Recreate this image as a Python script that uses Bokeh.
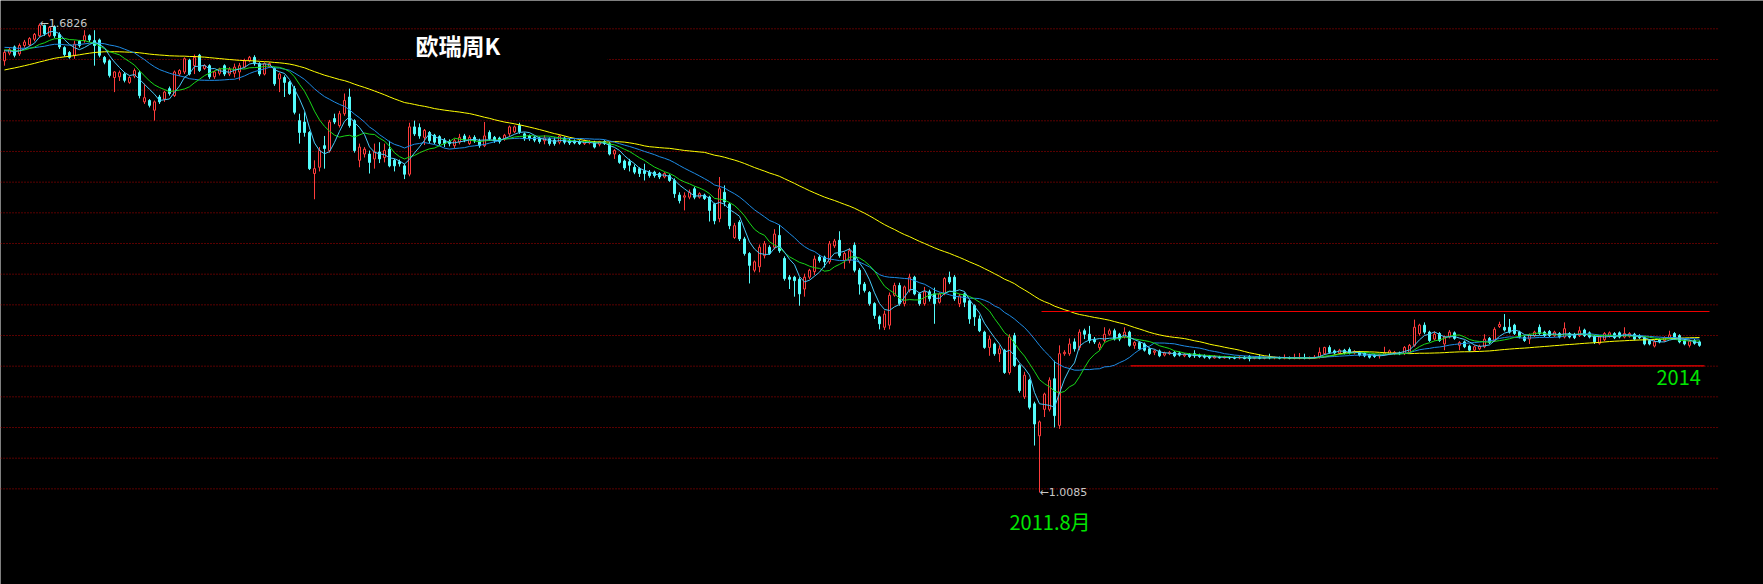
from bokeh.plotting import figure
from bokeh.models import Label, Grid, Range1d
from bokeh.embed import file_html
from bokeh.resources import INLINE

# ---------------- data (EUR/CHF weekly) ----------------
# closes used only to warm up the moving averages (before the visible window)
pre_closes = [1.552, 1.556, 1.555, 1.560, 1.558, 1.564, 1.562, 1.566, 1.564, 1.563,
              1.578, 1.582, 1.585, 1.589, 1.587, 1.592, 1.594, 1.596, 1.599, 1.598,
              1.608, 1.612, 1.615, 1.619, 1.622, 1.626, 1.621, 1.628, 1.624, 1.611,
              1.606, 1.614, 1.620, 1.626, 1.631, 1.635, 1.639, 1.637, 1.642, 1.647,
              1.650, 1.654, 1.657, 1.652, 1.658, 1.655, 1.657, 1.650, 1.645, 1.641,
              1.648, 1.652, 1.647, 1.644, 1.640, 1.646, 1.642, 1.645, 1.643]

opens = [1.629, 1.640, 1.649, 1.639, 1.651, 1.652, 1.660, 1.665, 1.680, 1.665,
         1.678, 1.667, 1.648, 1.641, 1.637, 1.657, 1.658, 1.665, 1.658, 1.659,
         1.634, 1.629, 1.605, 1.606, 1.610, 1.598, 1.607, 1.612, 1.570, 1.572,
         1.558, 1.577, 1.574, 1.589, 1.579, 1.610, 1.613, 1.630, 1.622, 1.637,
         1.618, 1.622, 1.606, 1.611, 1.622, 1.610, 1.611, 1.613, 1.620, 1.629,
         1.634, 1.625, 1.610, 1.621, 1.618, 1.603, 1.605, 1.598, 1.589, 1.543,
         1.541, 1.526, 1.467, 1.476, 1.507, 1.500, 1.546, 1.536, 1.553, 1.577,
         1.543, 1.486, 1.495, 1.495, 1.488, 1.498, 1.490, 1.502, 1.486, 1.484,
         1.478, 1.466, 1.534, 1.533, 1.519, 1.526, 1.522, 1.520, 1.515, 1.513,
         1.507, 1.512, 1.521, 1.510, 1.519, 1.514, 1.507, 1.526, 1.519, 1.518,
         1.517, 1.524, 1.527, 1.536, 1.524, 1.521, 1.519, 1.518, 1.514, 1.517,
         1.515, 1.512, 1.518, 1.515, 1.514, 1.513, 1.510, 1.511, 1.512, 1.509,
         1.513, 1.510, 1.495, 1.493, 1.485, 1.484, 1.476, 1.474, 1.471, 1.469,
         1.469, 1.467, 1.462, 1.464, 1.457, 1.436, 1.433, 1.433, 1.445, 1.433,
         1.436, 1.433, 1.423, 1.402, 1.440, 1.423, 1.375, 1.397, 1.373, 1.352,
         1.328, 1.333, 1.349, 1.361, 1.361, 1.378, 1.345, 1.318, 1.318, 1.315,
         1.301, 1.318, 1.326, 1.347, 1.347, 1.340, 1.363, 1.371, 1.342, 1.342,
         1.364, 1.328, 1.308, 1.296, 1.280, 1.261, 1.246, 1.249, 1.292, 1.306,
         1.280, 1.299, 1.318, 1.294, 1.280, 1.297, 1.294, 1.282, 1.294, 1.318,
         1.318, 1.280, 1.294, 1.284, 1.277, 1.258, 1.239, 1.217, 1.222, 1.208,
         1.213, 1.181, 1.234, 1.191, 1.146, 1.170, 1.136, 1.090, 1.128, 1.128,
         1.172, 1.105, 1.208, 1.208, 1.225, 1.217, 1.241, 1.236, 1.229, 1.217,
         1.227, 1.236, 1.241, 1.236, 1.232, 1.239, 1.220, 1.224, 1.222, 1.215,
         1.210, 1.212, 1.206, 1.208, 1.210, 1.209, 1.205, 1.207, 1.208, 1.206,
         1.205, 1.204, 1.202, 1.203, 1.202, 1.203, 1.202, 1.202, 1.203, 1.204,
         1.2015, 1.2025, 1.2015, 1.203, 1.202, 1.2025, 1.2015, 1.2025, 1.2015, 1.202,
         1.2025, 1.2015, 1.2025, 1.203, 1.208, 1.217, 1.212, 1.209, 1.213, 1.214,
         1.209, 1.210, 1.209, 1.206, 1.206, 1.205, 1.207, 1.208, 1.208, 1.209,
         1.208, 1.210, 1.220, 1.237, 1.249, 1.239, 1.229, 1.237, 1.222, 1.232,
         1.238, 1.220, 1.225, 1.219, 1.213, 1.215, 1.218, 1.230, 1.227, 1.247,
         1.246, 1.246, 1.249, 1.239, 1.232, 1.229, 1.234, 1.246, 1.239, 1.240,
         1.234, 1.237, 1.232, 1.237, 1.236, 1.234, 1.242, 1.238, 1.233, 1.223,
         1.228, 1.233, 1.237, 1.238, 1.232, 1.233, 1.236, 1.234, 1.231, 1.227,
         1.219, 1.228, 1.227, 1.231, 1.237, 1.234, 1.227, 1.220, 1.227, 1.225]

highs = [1.645, 1.648, 1.651, 1.654, 1.659, 1.663, 1.669, 1.6826, 1.681, 1.679,
         1.680, 1.670, 1.650, 1.643, 1.658, 1.659, 1.673, 1.667, 1.673, 1.661,
         1.636, 1.631, 1.614, 1.615, 1.613, 1.607, 1.618, 1.615, 1.596, 1.574,
         1.572, 1.580, 1.586, 1.592, 1.615, 1.617, 1.634, 1.632, 1.638, 1.639,
         1.624, 1.624, 1.615, 1.619, 1.624, 1.620, 1.625, 1.626, 1.632, 1.636,
         1.637, 1.627, 1.627, 1.627, 1.620, 1.612, 1.608, 1.600, 1.593, 1.553,
         1.555, 1.528, 1.486, 1.505, 1.521, 1.544, 1.553, 1.557, 1.582, 1.589,
         1.545, 1.510, 1.505, 1.500, 1.510, 1.512, 1.510, 1.514, 1.488, 1.487,
         1.481, 1.540, 1.543, 1.539, 1.531, 1.528, 1.524, 1.522, 1.518, 1.516,
         1.517, 1.524, 1.524, 1.522, 1.522, 1.517, 1.541, 1.529, 1.521, 1.520,
         1.524, 1.536, 1.536, 1.540, 1.526, 1.523, 1.521, 1.520, 1.522, 1.519,
         1.519, 1.523, 1.520, 1.518, 1.516, 1.515, 1.516, 1.515, 1.514, 1.514,
         1.515, 1.512, 1.502, 1.495, 1.487, 1.488, 1.480, 1.476, 1.481, 1.472,
         1.471, 1.469, 1.469, 1.466, 1.460, 1.440, 1.440, 1.444, 1.448, 1.440,
         1.438, 1.435, 1.425, 1.462, 1.450, 1.425, 1.396, 1.400, 1.376, 1.354,
         1.342, 1.365, 1.370, 1.364, 1.387, 1.393, 1.348, 1.321, 1.320, 1.318,
         1.323, 1.330, 1.349, 1.350, 1.349, 1.370, 1.373, 1.384, 1.355, 1.360,
         1.368, 1.331, 1.311, 1.298, 1.282, 1.263, 1.270, 1.296, 1.310, 1.310,
         1.306, 1.323, 1.320, 1.296, 1.304, 1.300, 1.303, 1.296, 1.318, 1.326,
         1.321, 1.294, 1.296, 1.286, 1.279, 1.263, 1.241, 1.234, 1.224, 1.220,
         1.215, 1.236, 1.238, 1.193, 1.182, 1.172, 1.139, 1.112, 1.152, 1.174,
         1.198, 1.220, 1.213, 1.230, 1.230, 1.243, 1.244, 1.248, 1.232, 1.225,
         1.246, 1.244, 1.244, 1.238, 1.246, 1.241, 1.226, 1.226, 1.224, 1.217,
         1.214, 1.214, 1.211, 1.212, 1.212, 1.211, 1.209, 1.209, 1.213, 1.208,
         1.207, 1.206, 1.206, 1.205, 1.205, 1.204, 1.204, 1.205, 1.205, 1.206,
         1.204, 1.207, 1.204, 1.208, 1.204, 1.204, 1.207, 1.204, 1.208, 1.209,
         1.208, 1.204, 1.206, 1.217, 1.218, 1.220, 1.214, 1.215, 1.215, 1.217,
         1.213, 1.212, 1.211, 1.208, 1.208, 1.208, 1.218, 1.214, 1.212, 1.211,
         1.219, 1.222, 1.257, 1.251, 1.253, 1.241, 1.240, 1.239, 1.234, 1.242,
         1.240, 1.226, 1.227, 1.221, 1.220, 1.221, 1.236, 1.232, 1.246, 1.254,
         1.265, 1.258, 1.251, 1.241, 1.234, 1.237, 1.241, 1.250, 1.241, 1.242,
         1.241, 1.239, 1.253, 1.239, 1.238, 1.247, 1.244, 1.240, 1.235, 1.234,
         1.239, 1.240, 1.239, 1.240, 1.246, 1.239, 1.238, 1.236, 1.233, 1.229,
         1.228, 1.230, 1.233, 1.241, 1.239, 1.236, 1.229, 1.228, 1.229, 1.227]

lows = [1.622, 1.637, 1.634, 1.636, 1.648, 1.650, 1.657, 1.663, 1.665, 1.663,
        1.662, 1.646, 1.635, 1.632, 1.632, 1.648, 1.655, 1.656, 1.622, 1.634,
        1.624, 1.605, 1.584, 1.600, 1.598, 1.596, 1.604, 1.575, 1.567, 1.562,
        1.543, 1.567, 1.570, 1.579, 1.577, 1.607, 1.610, 1.608, 1.610, 1.613,
        1.616, 1.603, 1.603, 1.608, 1.607, 1.607, 1.605, 1.601, 1.618, 1.627,
        1.622, 1.607, 1.608, 1.619, 1.593, 1.584, 1.577, 1.580, 1.552, 1.510,
        1.520, 1.472, 1.430, 1.470, 1.474, 1.497, 1.538, 1.533, 1.550, 1.533,
        1.497, 1.476, 1.490, 1.467, 1.474, 1.482, 1.483, 1.476, 1.470, 1.477,
        1.459, 1.463, 1.521, 1.517, 1.508, 1.510, 1.509, 1.507, 1.505, 1.506,
        1.503, 1.509, 1.512, 1.508, 1.511, 1.504, 1.505, 1.514, 1.511, 1.510,
        1.514, 1.520, 1.525, 1.524, 1.514, 1.514, 1.512, 1.510, 1.509, 1.507,
        1.507, 1.509, 1.509, 1.508, 1.509, 1.508, 1.508, 1.509, 1.503, 1.506,
        1.508, 1.493, 1.488, 1.481, 1.472, 1.470, 1.466, 1.462, 1.457, 1.461,
        1.461, 1.459, 1.460, 1.455, 1.432, 1.424, 1.414, 1.430, 1.430, 1.431,
        1.429, 1.398, 1.394, 1.397, 1.420, 1.387, 1.373, 1.370, 1.349, 1.309,
        1.325, 1.325, 1.345, 1.350, 1.358, 1.353, 1.313, 1.301, 1.290, 1.277,
        1.290, 1.315, 1.321, 1.339, 1.332, 1.337, 1.360, 1.346, 1.330, 1.338,
        1.325, 1.293, 1.296, 1.277, 1.258, 1.243, 1.242, 1.243, 1.290, 1.277,
        1.276, 1.296, 1.292, 1.277, 1.277, 1.283, 1.251, 1.280, 1.292, 1.308,
        1.284, 1.275, 1.275, 1.251, 1.248, 1.239, 1.215, 1.205, 1.205, 1.196,
        1.179, 1.178, 1.189, 1.152, 1.143, 1.128, 1.076, 1.0085, 1.117, 1.125,
        1.102, 1.100, 1.205, 1.205, 1.211, 1.213, 1.229, 1.223, 1.222, 1.213,
        1.224, 1.234, 1.227, 1.226, 1.230, 1.218, 1.215, 1.213, 1.211, 1.206,
        1.206, 1.203, 1.204, 1.206, 1.203, 1.204, 1.203, 1.202, 1.202, 1.202,
        1.201, 1.200, 1.201, 1.201, 1.201, 1.200, 1.200, 1.200, 1.200, 1.197,
        1.200, 1.200, 1.200, 1.200, 1.200, 1.200, 1.200, 1.200, 1.200, 1.200,
        1.200, 1.200, 1.201, 1.201, 1.206, 1.208, 1.207, 1.207, 1.207, 1.207,
        1.207, 1.204, 1.203, 1.201, 1.202, 1.201, 1.205, 1.206, 1.206, 1.206,
        1.206, 1.208, 1.218, 1.234, 1.236, 1.225, 1.227, 1.225, 1.213, 1.230,
        1.228, 1.213, 1.216, 1.211, 1.211, 1.213, 1.216, 1.222, 1.225, 1.245,
        1.240, 1.237, 1.235, 1.230, 1.225, 1.222, 1.232, 1.235, 1.232, 1.232,
        1.232, 1.230, 1.230, 1.230, 1.229, 1.232, 1.232, 1.230, 1.222, 1.221,
        1.226, 1.231, 1.229, 1.230, 1.230, 1.231, 1.227, 1.229, 1.220, 1.220,
        1.217, 1.223, 1.225, 1.229, 1.228, 1.223, 1.220, 1.217, 1.221, 1.218]

closes = [1.641, 1.645, 1.637, 1.651, 1.656, 1.661, 1.667, 1.680, 1.668, 1.677,
          1.665, 1.649, 1.638, 1.634, 1.653, 1.651, 1.665, 1.659, 1.651, 1.637,
          1.627, 1.608, 1.613, 1.612, 1.601, 1.605, 1.615, 1.579, 1.576, 1.565,
          1.570, 1.570, 1.584, 1.582, 1.613, 1.615, 1.632, 1.610, 1.634, 1.615,
          1.622, 1.606, 1.613, 1.617, 1.610, 1.617, 1.620, 1.622, 1.629, 1.634,
          1.625, 1.610, 1.625, 1.625, 1.596, 1.610, 1.598, 1.582, 1.555, 1.526,
          1.526, 1.474, 1.474, 1.500, 1.503, 1.541, 1.541, 1.553, 1.572, 1.536,
          1.500, 1.505, 1.502, 1.483, 1.498, 1.488, 1.500, 1.478, 1.478, 1.481,
          1.466, 1.534, 1.524, 1.521, 1.529, 1.514, 1.512, 1.510, 1.510, 1.510,
          1.514, 1.519, 1.515, 1.519, 1.514, 1.507, 1.521, 1.517, 1.514, 1.513,
          1.522, 1.534, 1.534, 1.527, 1.517, 1.517, 1.515, 1.513, 1.518, 1.510,
          1.510, 1.521, 1.512, 1.511, 1.511, 1.510, 1.514, 1.513, 1.505, 1.513,
          1.510, 1.495, 1.500, 1.483, 1.475, 1.479, 1.469, 1.467, 1.467, 1.464,
          1.464, 1.462, 1.467, 1.457, 1.438, 1.428, 1.435, 1.440, 1.433, 1.438,
          1.431, 1.414, 1.399, 1.445, 1.426, 1.392, 1.392, 1.373, 1.352, 1.335,
          1.340, 1.361, 1.366, 1.352, 1.380, 1.356, 1.316, 1.315, 1.313, 1.294,
          1.318, 1.328, 1.344, 1.342, 1.340, 1.366, 1.370, 1.349, 1.352, 1.356,
          1.328, 1.308, 1.299, 1.280, 1.263, 1.251, 1.265, 1.292, 1.306, 1.280,
          1.304, 1.318, 1.294, 1.280, 1.297, 1.287, 1.280, 1.294, 1.316, 1.311,
          1.287, 1.291, 1.282, 1.258, 1.261, 1.241, 1.217, 1.229, 1.208, 1.215,
          1.181, 1.232, 1.191, 1.155, 1.177, 1.131, 1.107, 1.110, 1.150, 1.170,
          1.119, 1.208, 1.210, 1.222, 1.215, 1.239, 1.236, 1.227, 1.225, 1.222,
          1.236, 1.241, 1.229, 1.229, 1.239, 1.220, 1.224, 1.215, 1.213, 1.208,
          1.212, 1.205, 1.209, 1.210, 1.205, 1.206, 1.207, 1.204, 1.205, 1.204,
          1.203, 1.202, 1.204, 1.202, 1.203, 1.202, 1.2015, 1.203, 1.201, 1.201,
          1.2025, 1.2015, 1.203, 1.202, 1.2025, 1.2015, 1.2025, 1.2015, 1.202, 1.2025,
          1.2015, 1.2025, 1.203, 1.210, 1.217, 1.210, 1.209, 1.213, 1.209, 1.209,
          1.211, 1.206, 1.205, 1.203, 1.204, 1.207, 1.209, 1.212, 1.210, 1.208,
          1.217, 1.220, 1.246, 1.249, 1.239, 1.227, 1.236, 1.227, 1.232, 1.239,
          1.230, 1.224, 1.218, 1.213, 1.218, 1.219, 1.229, 1.224, 1.243, 1.250,
          1.242, 1.239, 1.237, 1.232, 1.227, 1.235, 1.239, 1.237, 1.234, 1.234,
          1.239, 1.232, 1.244, 1.232, 1.231, 1.241, 1.234, 1.232, 1.225, 1.232,
          1.237, 1.238, 1.231, 1.232, 1.237, 1.237, 1.229, 1.231, 1.222, 1.222,
          1.225, 1.225, 1.231, 1.235, 1.230, 1.225, 1.222, 1.226, 1.223, 1.220]

ma_periods = [5, 10, 20, 60]
resistance = 1.2687
support = 1.1906
title_text = "欧瑞周K"
note_low = "2011.8月"
note_year = "2014"

# ---------------- layout helpers (reference pixel -> data) ----------------
W, H = 1763, 584
GRID_RIGHT = 1717          # where the dotted grid ends in the reference


def px_x(xr):
    return (xr - 4) / 5.0


def px_y(yr):
    return 1.7157 - 0.0014374 * yr


RED = "#ff3c3c"
CYAN = "#54fcfc"
LINE_RED = "#ee0000"

p = figure(width=W, height=H,
           x_range=Range1d(px_x(0), px_x(W)),
           y_range=Range1d(px_y(H), px_y(0)),
           output_backend="svg", toolbar_location=None,
           x_axis_location=None, y_axis_location=None,
           background_fill_color="black", border_fill_color="black",
           min_border=0, outline_line_color=None)

# drop the default grids
for r in list(p.center):
    if isinstance(r, Grid):
        r.visible = False

# dotted red level lines
grid_levels = [px_y(28.3 + 30.67 * k) for k in range(16)]
p.segment(x0=[px_x(0)] * len(grid_levels), x1=[px_x(GRID_RIGHT)] * len(grid_levels),
          y0=grid_levels, y1=grid_levels,
          line_color="#b40000", line_dash="1 2", line_width=1)

# black box behind the title (hides the grid there)
p.quad(left=[px_x(412)], right=[px_x(607)], top=[px_y(36)], bottom=[px_y(78)],
       fill_color="black", line_color=None)

N = len(closes)
idx = list(range(N))
up_i = [i for i in idx if closes[i] >= opens[i]]
dn_i = [i for i in idx if closes[i] < opens[i]]

# wicks
p.segment(x0=up_i, x1=up_i, y0=[lows[i] for i in up_i], y1=[highs[i] for i in up_i],
          line_color=RED, line_width=1)
p.segment(x0=dn_i, x1=dn_i, y0=[lows[i] for i in dn_i], y1=[highs[i] for i in dn_i],
          line_color=CYAN, line_width=1)
# bodies: up = hollow red, down = filled cyan
p.vbar(x=up_i, width=0.4, top=[closes[i] for i in up_i], bottom=[opens[i] for i in up_i],
       fill_color="black", line_color=RED, line_width=1)
p.vbar(x=dn_i, width=0.4, top=[opens[i] for i in dn_i], bottom=[closes[i] for i in dn_i],
       fill_color=CYAN, line_color=CYAN, line_width=1)

# moving averages
all_closes = pre_closes + closes
off = len(pre_closes)


def moving_average(n):
    out = []
    for i in idx:
        j = off + i
        w = all_closes[j - n + 1:j + 1]
        out.append(sum(w) / len(w))
    return out


ma_colors = {5: "#48c8f8", 10: "#18d818", 20: "#1e8ce6", 60: "#ffff00"}
for n in [60, 20, 10, 5]:
    p.line(idx, moving_average(n), line_color=ma_colors[n], line_width=1)

# support / resistance
p.segment(x0=[px_x(1041)], x1=[px_x(1709)], y0=[resistance], y1=[resistance],
          line_color=LINE_RED, line_width=1.2)
p.segment(x0=[px_x(1130)], x1=[px_x(1704)], y0=[support], y1=[support],
          line_color=LINE_RED, line_width=1.2)

# labels
hi = max(highs)
hi_i = highs.index(hi)
lo = min(lows)
lo_i = lows.index(lo)
p.add_layout(Label(x=hi_i, y=hi, text="←%.4f" % hi, text_color="#c8c8c8",
                   text_font="DejaVu Sans", text_font_size="11px",
                   text_baseline="middle", text_align="left"))
p.add_layout(Label(x=lo_i, y=lo, text="←%.4f" % lo, text_color="#c8c8c8",
                   text_font="DejaVu Sans", text_font_size="11px",
                   text_baseline="middle", text_align="left"))
p.add_layout(Label(x=px_x(415), y=px_y(44), text=title_text, text_color="white",
                   text_font="Noto Sans CJK SC", text_font_size="23px",
                   text_font_style="bold", text_baseline="middle", text_align="left"))
p.add_layout(Label(x=px_x(1009), y=px_y(521), text=note_low, text_color="#00e600",
                   text_font="Noto Sans CJK SC", text_font_size="20px",
                   text_baseline="middle", text_align="left"))
p.add_layout(Label(x=px_x(1656), y=px_y(377), text=note_year, text_color="#00e600",
                   text_font="Noto Sans CJK SC", text_font_size="20px",
                   text_baseline="middle", text_align="left"))

open("out.html", "w").write(file_html(p, INLINE))
